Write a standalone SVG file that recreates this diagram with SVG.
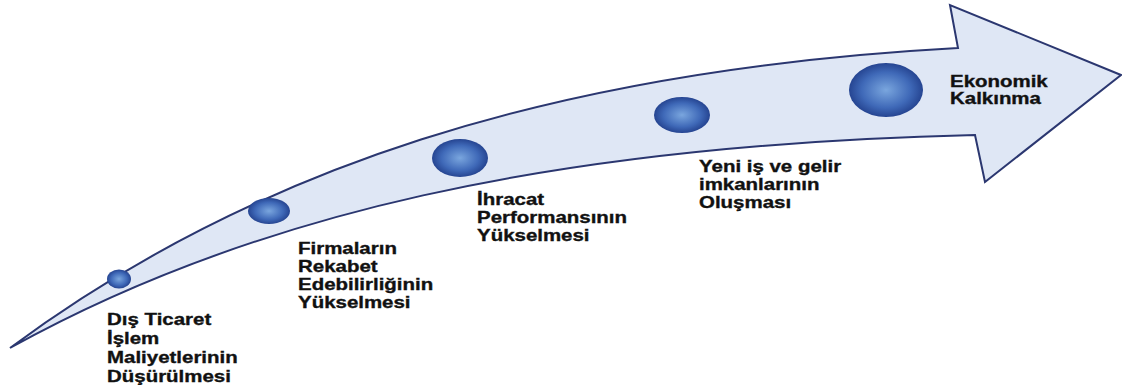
<svg xmlns="http://www.w3.org/2000/svg" width="1122" height="385" viewBox="0 0 1122 385">
<defs>
<radialGradient id="ball" cx="50%" cy="50%" r="55%">
<stop offset="0" stop-color="#7aa6de"/>
<stop offset="0.6" stop-color="#3f69b8"/>
<stop offset="1" stop-color="#1e3a86"/>
</radialGradient>
<style>
.arrow{fill:#dfe7f5;stroke:#2b3770;stroke-width:2;stroke-linejoin:miter}
.ball{fill:url(#ball)}
.lbl{font-family:"Liberation Sans",Arial,sans-serif;font-weight:bold;font-size:16.5px;fill:#111;stroke:#111;stroke-width:0.35}
</style>
</defs>
<rect width="1122" height="385" fill="#ffffff"/>
<g id="connectors">
<path id="arrow" class="arrow" d="M10,348 C250,170 550,70 958,48 L950,5 L1121,75 L985,182 L975,135 C550,145 250,215 10,348 Z"/>
</g>
<g id="node1"><ellipse class="ball" cx="119" cy="279" rx="12" ry="9.5"/>
<text class="lbl" transform="translate(107,325) scale(1.24,1)"><tspan x="0" y="0">Dış Ticaret</tspan><tspan x="0" y="19">İşlem</tspan><tspan x="0" y="38">Maliyetlerinin</tspan><tspan x="0" y="57">Düşürülmesi</tspan></text></g>
<g id="node2"><ellipse class="ball" cx="269" cy="211" rx="21" ry="13"/>
<text class="lbl" transform="translate(298,254) scale(1.24,1)"><tspan x="0" y="0">Firmaların</tspan><tspan x="0" y="18">Rekabet</tspan><tspan x="0" y="36">Edebilirliğinin</tspan><tspan x="0" y="54">Yükselmesi</tspan></text></g>
<g id="node3"><ellipse class="ball" cx="460" cy="158" rx="28" ry="19"/>
<text class="lbl" transform="translate(477,205) scale(1.24,1)"><tspan x="0" y="0">İhracat</tspan><tspan x="0" y="18">Performansının</tspan><tspan x="0" y="36">Yükselmesi</tspan></text></g>
<g id="node4"><ellipse class="ball" cx="682" cy="115" rx="28" ry="18"/>
<text class="lbl" transform="translate(699,172) scale(1.24,1)"><tspan x="0" y="0">Yeni iş ve gelir</tspan><tspan x="0" y="18">imkanlarının</tspan><tspan x="0" y="36">Oluşması</tspan></text></g>
<g id="node5"><ellipse class="ball" cx="886" cy="90" rx="37" ry="27"/>
<text class="lbl" transform="translate(950,87) scale(1.24,1)"><tspan x="0" y="0">Ekonomik</tspan><tspan x="0" y="17">Kalkınma</tspan></text></g>
</svg>
